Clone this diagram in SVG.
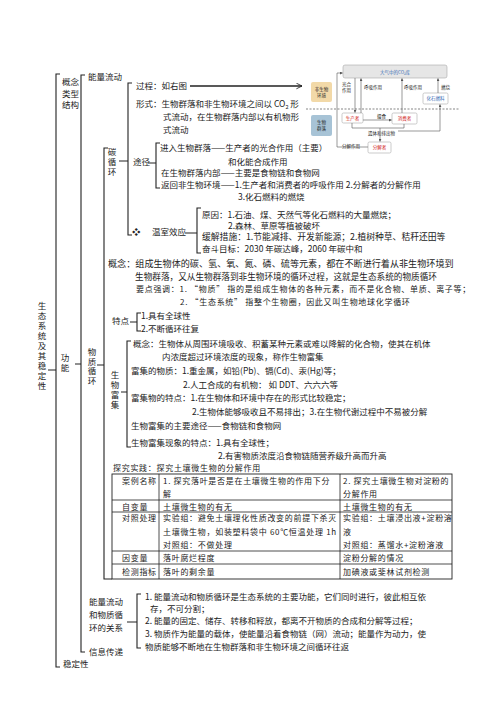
<svg xmlns="http://www.w3.org/2000/svg" width="496" height="702" viewBox="0 0 496 702">
<style>
text{font-family:"Noto Sans CJK SC","Noto Sans",sans-serif;font-size:8.5px;fill:#222}
.v{writing-mode:vertical-rl;letter-spacing:1.5px}
.k{font-size:8px;letter-spacing:0.7px}
.b{fill:none;stroke:#222;stroke-width:1.1}
.m{font-size:4.5px}
.mb{fill:#3a6db5}
.mr{fill:#d02020}
.ml{fill:none;stroke:#555;stroke-width:0.6}
.bx{fill:#fff;stroke:#aaa;stroke-width:0.6}
.tl{stroke:#222;stroke-width:0.8}
</style>
<defs>
<marker id="ah" viewBox="0 0 10 10" refX="9" refY="5" markerWidth="7" markerHeight="7" orient="auto" markerUnits="userSpaceOnUse"><path d="M1,1 L9,5 L1,9" fill="none" stroke="#222" stroke-width="1.2"/></marker>
<marker id="sa" viewBox="0 0 10 10" refX="9" refY="5" markerWidth="3" markerHeight="3" orient="auto" markerUnits="userSpaceOnUse"><path d="M0,0 L10,5 L0,10z" fill="#555"/></marker>
</defs>
<rect width="496" height="702" fill="#fff"/>

<g id="connectors">
<path class="b" d="M60,74 H56 V667 H60 M56,370 H48"/>
<path class="b" d="M85,75 H81 V652 H85 M81,364 H75"/>
<path class="b" d="M132,83 H128 V235 H132 M128,161 H119"/>
<path class="b" d="M160,143 H156 V188 H160 M156,163 H148"/>
<path class="b" d="M108,148 H104 V579 H112 M104,365 H97"/>
<path class="b" d="M201,208 H197 V253 H201 M197,233 H185"/>
<path class="b" d="M141,313 H137 V331 H141 M137,322 H130"/>
<path class="b" d="M131,341 H127 V447 H131 M127,392 H121"/>
<path class="b" d="M141,594 H137 V648 H141 M137,622 H127"/>
<path d="M190,86 H302" stroke="#222" stroke-width="1.5" fill="none" marker-end="url(#ah)"/>
</g>

<g id="title"><text class="v" x="42" y="301.5">生态系统及其稳定性</text></g>

<g id="concept-type-structure"><text x="62" y="85">概念</text><text x="62" y="97">类型</text><text x="62" y="108">结构</text></g>
<g id="function"><text class="v" x="65" y="353.8">功能</text></g>
<g id="stability"><text x="63" y="667">稳定性</text></g>

<g id="energy-flow">
<text x="88" y="80">能量流动</text>
<text x="136" y="89">过程：如右图</text>
<text x="136" y="107">形式：生物群落和非生物环境之间以 CO<tspan font-size="5.5" dy="2">2</tspan><tspan dy="-2"> 形</tspan></text>
<text x="163" y="120">式流动，在生物群落内部以有机物形</text>
<text x="163" y="133">式流动</text>
</g>

<g id="carbon-cycle-figure">
<rect x="311" y="82" width="21" height="20" rx="2" fill="#f2d9a8"/>
<text class="m" x="321.5" y="91" text-anchor="middle">非生物</text><text class="m" x="321.5" y="97" text-anchor="middle">环境</text>
<rect x="311" y="115" width="21" height="21" rx="2" fill="#a7c3d6"/>
<text class="m" x="321.5" y="124" text-anchor="middle">生物</text><text class="m" x="321.5" y="130" text-anchor="middle">群落</text>
<path d="M306,109 H460" stroke="#333" stroke-width="0.6" stroke-dasharray="2,1.5"/>
<rect x="343" y="65" width="104" height="13" rx="2" fill="#e6e6e6" stroke="#aaa" stroke-width="0.6"/>
<text class="m mb" x="395" y="73.5" text-anchor="middle">大气中的CO₂库</text>
<rect class="bx" x="423" y="93" width="25" height="11" rx="1.5"/><text class="m mb" x="435.5" y="100" text-anchor="middle">化石燃料</text>
<rect class="bx" x="342" y="113" width="21" height="10" rx="1.5"/><text class="m mr" x="352.5" y="119.8" text-anchor="middle">生产者</text>
<rect class="bx" x="392" y="113" width="25" height="11" rx="1.5"/><text class="m mr" x="404.5" y="120.3" text-anchor="middle">消费者</text>
<rect class="bx" x="368" y="142" width="23" height="11" rx="1.5"/><text class="m mr" x="379.5" y="149.3" text-anchor="middle">分解者</text>
<text class="m" x="342" y="86">光合</text><text class="m" x="342" y="92">作用</text>
<text class="m" x="364" y="88.5">呼吸作用</text>
<text class="m" x="404" y="88.5">呼吸作用</text>
<text class="m" x="441" y="88.5">燃烧</text>
<text class="m" x="377" y="118">摄食</text>
<text class="m" x="368" y="134.5">遗体和排出物</text>
<text class="m" x="342" y="147.5">分解作用</text>
<path class="ml" d="M355,78 V112.5" marker-end="url(#sa)"/>
<path class="ml" d="M361,113 V78.5" marker-end="url(#sa)"/>
<path class="ml" d="M402,113 V78.5" marker-end="url(#sa)"/>
<path class="ml" d="M438,93 V78.5" marker-end="url(#sa)"/>
<path class="ml" d="M368,147 H337 V73 H342.5" marker-end="url(#sa)"/>
<path class="ml" d="M363,120 H391.5" marker-end="url(#sa)"/>
<path class="ml" d="M352,123 V128 H380 M404,124 V128 H380 M380,128 V141.5" marker-end="url(#sa)"/>
<path class="ml" d="M398,131 H440 V104.5" marker-end="url(#sa)"/>
</g>

<g id="carbon-cycle">
<text class="v" x="112" y="147.8">碳循环</text>
<text x="133" y="165">途径</text>
<text x="160" y="151">进入生物群落——生产者的光合作用（主要）</text>
<text x="228" y="165">和化能合成作用</text>
<text x="161" y="176">在生物群落内部——主要是食物链和食物网</text>
<text x="161" y="187.5">返回非生物环境——1.生产者和消费者的呼吸作用 2.分解者的分解作用</text>
<text x="238" y="200">3.化石燃料的燃烧</text>
</g>

<g id="greenhouse">
<text x="132" y="235">❖</text>
<text x="152" y="235">温室效应</text>
<text x="202" y="218">原因：1.石油、煤、天然气等化石燃料的大量燃烧；</text>
<text x="228" y="228.5">2.森林、草原等植被破坏</text>
<text x="202" y="240" style="font-size:8.8px">缓解措施：1.节能减排、开发新能源；2.植树种草、秸秆还田等</text>
<text x="202" y="252">奋斗目标：2030 年碳达峰，2060 年碳中和</text>
</g>

<g id="matter-cycle">
<text class="v" x="92" y="347.8" style="letter-spacing:1px">物质循环</text>
<text x="108" y="266.5" style="font-size:9.1px">概念：组成生物体的碳、氢、氧、氮、磷、硫等元素，都在不断进行着从非生物环境到</text>
<text x="135" y="279.5" style="font-size:8.65px">生物群落，又从生物群落到非生物环境的循环过程，这就是生态系统的物质循环</text>
<text class="k" x="136" y="292">要点强调：1. “物质” 指的是组成生物体的各种元素，而不是化合物、单质、离子等；</text>
<text class="k" x="180" y="305">2. “生态系统” 指整个生物圈，因此又叫生物地球化学循环</text>
</g>

<g id="features">
<text x="112" y="324">特点</text>
<text x="141" y="319">1.具有全球性</text>
<text x="141" y="331.5">2.不断循环往复</text>
</g>

<g id="bioaccumulation">
<text class="v" x="115" y="370.8">生物富集</text>
<text x="133" y="346.5">概念：生物体从周围环境吸收、积蓄某种元素或难以降解的化合物，使其在机体</text>
<text x="162" y="359.5">内浓度超过环境浓度的现象，称作生物富集</text>
<text x="131" y="374">富集的物质：1.重金属，如铅(Pb)、镉(Cd)、汞(Hg)等；</text>
<text x="183" y="387.5">2.人工合成的有机物：  如 DDT、六六六等</text>
<text x="131" y="400.5">富集物的特点：1.在生物体和环境中存在的形式比较稳定；</text>
<text x="192" y="414.5">2.生物体能够吸收且不易排出；3.在生物代谢过程中不易被分解</text>
<text x="131" y="428.5">生物富集的主要途径——食物链和食物网</text>
<text x="131" y="446">生物富集现象的特点：1.具有全球性；</text>
<text x="218" y="458.5">2.有害物质浓度沿食物链随营养级升高而升高</text>
</g>

<g id="practice">
<text class="k" x="113" y="471">探究实践：探究土壤微生物的分解作用</text>
</g>

<g id="practice-table">
<rect x="112" y="474" width="340" height="105" fill="none" stroke="#222" stroke-width="0.9"/>
<path class="tl" d="M112,500 H452 M112,512 H452 M112,551 H452 M112,564 H452 M159,474 V579 M340,474 V579"/>
<text class="k" x="122" y="484">案例名称</text>
<text class="k" x="163" y="484">1. 探究落叶是否是在土壤微生物的作用下分</text>
<text class="k" x="163" y="497">解</text>
<text class="k" x="343" y="484">2. 探究土壤微生物对淀粉的</text>
<text class="k" x="343" y="497">分解作用</text>
<text class="k" x="122" y="509.5">自变量</text>
<text class="k" x="163" y="509.5">土壤微生物的有无</text>
<text class="k" x="343" y="509.5">土壤微生物的有无</text>
<text class="k" x="122" y="521">对照处理</text>
<text class="k" x="163" y="521">实验组：避免土壤理化性质改变的前提下杀灭</text>
<text class="k" x="163" y="535">土壤微生物，如装塑料袋中 60℃恒温处理 1h</text>
<text class="k" x="163" y="548">对照组：不做处理</text>
<text class="k" x="343" y="521">实验组：土壤浸出液+淀粉溶</text>
<text class="k" x="343" y="535">液</text>
<text class="k" x="343" y="548">对照组：蒸馏水+淀粉溶液</text>
<text class="k" x="122" y="560.5">因变量</text>
<text class="k" x="163" y="560.5">落叶腐烂程度</text>
<text class="k" x="343" y="560.5">淀粉分解的情况</text>
<text class="k" x="122" y="575">检测指标</text>
<text class="k" x="163" y="575">落叶的剩余量</text>
<text class="k" x="343" y="575">加碘液或斐林试剂检测</text>
</g>

<g id="relation">
<text x="89" y="604.5">能量流动</text>
<text x="89" y="617.5">和物质循</text>
<text x="89" y="630.5">环的关系</text>
<text x="145" y="599.5">1.  能量流动和物质循环是生态系统的主要功能，它们同时进行，彼此相互依</text>
<text x="150" y="611.5">存，不可分割；</text>
<text x="145" y="624">2.  能量的固定、储存、转移和释放，都离不开物质的合成和分解等过程；</text>
<text x="145" y="636.5">3.  物质作为能量的载体，使能量沿着食物链（网）流动；能量作为动力，使</text>
<text x="145" y="649.5">物质能够不断地在生物群落和非生物环境之间循环往返</text>
</g>

<g id="information"><text x="89" y="654.5">信息传递</text></g>
</svg>
